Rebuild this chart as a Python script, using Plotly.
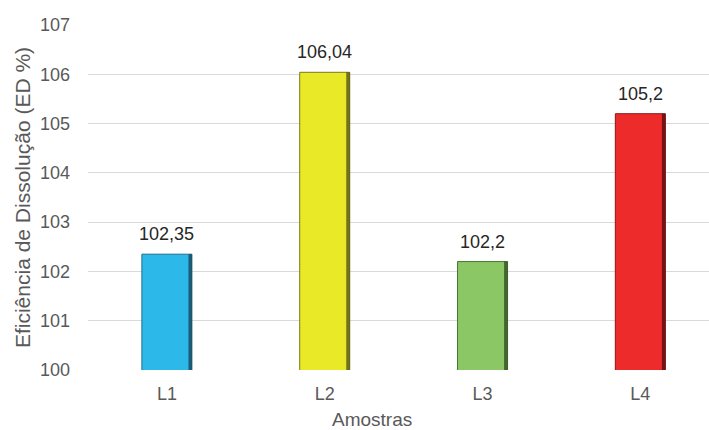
import plotly.graph_objects as go

amostras = ["L1", "L2", "L3", "L4"]
eficiencia = [102.35, 106.04, 102.2, 105.2]
cores = ["#2DB8EA", "#E9E927", "#8BC764", "#EE2B2B"]
bordas = ["#1D6E8E", "#7A7A18", "#4A7434", "#8A1616"]
sombras = ["#163F50", "#4A4A14", "#2C4420", "#4E0E0E"]

FONT = "Liberation Sans, Arial, sans-serif"
GRAY = "#595959"

fig = go.Figure()

# main bars
fig.add_trace(go.Bar(
    x=amostras, y=eficiencia, width=0.317,
    marker=dict(color=cores, line=dict(color=bordas, width=1)),
    hoverinfo="skip",
))
# dark right edge giving the bevelled look
fig.add_trace(go.Bar(
    x=amostras, y=eficiencia, width=0.022, offset=0.1365,
    marker=dict(color=sombras, line=dict(width=0), opacity=0.75),
    hoverinfo="skip",
))

# value labels with decimal comma
for a, v in zip(amostras, eficiencia):
    fig.add_annotation(
        x=a, y=v, text=f"{v:g}".replace(".", ","),
        showarrow=False, yanchor="bottom", yshift=8,
        font=dict(family=FONT, size=18, color="#262626"),
    )

# x-axis title
fig.add_annotation(
    xref="paper", yref="paper", x=0.457, y=-0.143,
    xanchor="center", yanchor="middle", showarrow=False,
    text="Amostras", font=dict(family=FONT, size=19, color=GRAY),
)

fig.update_layout(
    width=709, height=430,
    margin=dict(l=88, r=0, t=25, b=60),
    plot_bgcolor="white", paper_bgcolor="white",
    showlegend=False, barmode="overlay",
    font=dict(family=FONT, color=GRAY),
    xaxis=dict(
        type="category", range=[-0.5, 3.435], automargin=False,
        showgrid=False, showline=False, ticks="",
        ticklabelstandoff=11,
        tickfont=dict(size=18, color=GRAY),
    ),
    yaxis=dict(
        range=[100, 107], dtick=1, tick0=100, automargin=False,
        showgrid=True, gridcolor="#D9D9D9", gridwidth=1,
        zeroline=False, showline=False, ticks="",
        ticklabelstandoff=17,
        tickfont=dict(size=18, color=GRAY),
        title=dict(text="Eficiência de Dissolução (ED %)", font=dict(size=21, color=GRAY), standoff=3),
    ),
)

fig.write_html("out.html")
